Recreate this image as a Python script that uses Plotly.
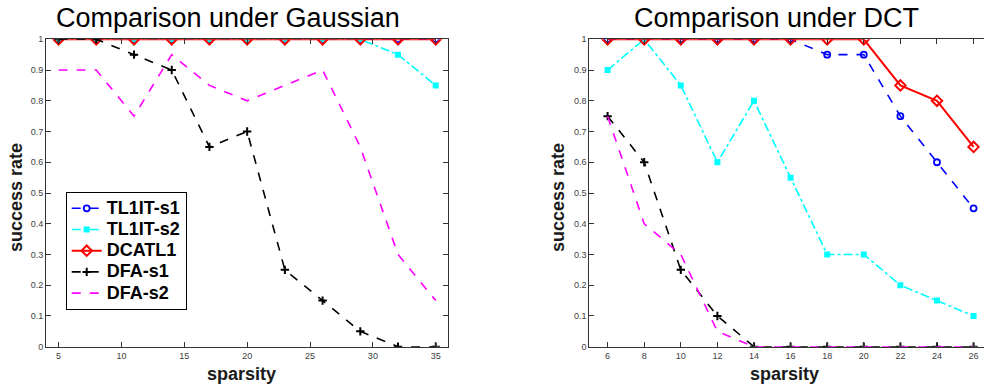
import plotly.graph_objects as go

# ---- data ----
names = ["TL1IT-s1", "TL1IT-s2", "DCATL1", "DFA-s1", "DFA-s2"]

gauss_x = [5, 8, 11, 14, 17, 20, 23, 26, 29, 32, 35]
gauss_tl1it_s1 = [1, 1, 1, 1, 1, 1, 1, 1, 1, 1, 1]
gauss_tl1it_s2 = [1, 1, 1, 1, 1, 1, 1, 1, 1, 0.95, 0.85]
gauss_dcatl1 = [1, 1, 1, 1, 1, 1, 1, 1, 1, 1, 1]
gauss_dfa_s1 = [1, 1, 0.95, 0.9, 0.65, 0.7, 0.25, 0.15, 0.05, 0, 0]
gauss_dfa_s2 = [0.9, 0.9, 0.75, 0.95, 0.85, 0.8, 0.85, 0.9, 0.65, 0.3, 0.15]

dct_x = [6, 8, 10, 12, 14, 16, 18, 20, 22, 24, 26]
dct_tl1it_s1 = [1, 1, 1, 1, 1, 1, 0.95, 0.95, 0.75, 0.6, 0.45]
dct_tl1it_s2 = [0.9, 1, 0.85, 0.6, 0.8, 0.55, 0.3, 0.3, 0.2, 0.15, 0.1]
dct_dcatl1 = [1, 1, 1, 1, 1, 1, 1, 1, 0.85, 0.8, 0.65]
dct_dfa_s1 = [0.75, 0.6, 0.25, 0.1, 0, 0, 0, 0, 0, 0, 0]
dct_dfa_s2 = [0.75, 0.4, 0.3, 0.05, 0, 0, 0, 0, 0, 0, 0]

gauss_xticks = [5, 10, 15, 20, 25, 30, 35]
dct_xticks = [6, 8, 10, 12, 14, 16, 18, 20, 22, 24, 26]
y_ticks = [0, 0.1, 0.2, 0.3, 0.4, 0.5, 0.6, 0.7, 0.8, 0.9, 1]
y_ticktext = ["0", "0.1", "0.2", "0.3", "0.4", "0.5", "0.6", "0.7", "0.8", "0.9", "1"]

titles = ["Comparison under Gaussian", "Comparison under DCT"]
xlabel = "sparsity"
ylabel = "success rate"

# ---- styles ----
styles = [
    dict(line=dict(color="#0000FF", width=1.6, dash="dash"),
         marker=dict(symbol="circle-open", size=6, color="#0000FF", line=dict(width=1.8)), mode="lines+markers"),
    dict(line=dict(color="#00FFFF", width=1.6, dash="dashdot"),
         marker=dict(symbol="square", size=6, color="#00FFFF"), mode="lines+markers"),
    dict(line=dict(color="#FF0000", width=2),
         marker=dict(symbol="diamond-open", size=8, color="#FF0000", line=dict(width=2)), mode="lines+markers"),
    dict(line=dict(color="#000000", width=1.6, dash="dash"),
         marker=dict(symbol="cross-thin-open", size=6, color="#000000", line=dict(width=2, color="#000000")), mode="lines+markers"),
    dict(line=dict(color="#FF00FF", width=1.6, dash="dash"), mode="lines"),
]

fig = go.Figure()
gauss_series = [gauss_tl1it_s1, gauss_tl1it_s2, gauss_dcatl1, gauss_dfa_s1, gauss_dfa_s2]
dct_series = [dct_tl1it_s1, dct_tl1it_s2, dct_dcatl1, dct_dfa_s1, dct_dfa_s2]
for name, ys, st in zip(names, gauss_series, styles):
    fig.add_trace(go.Scatter(x=gauss_x, y=ys, name='<span style="font-size:18px">' + name + "</span>",
                             xaxis="x", yaxis="y", showlegend=True, **st))
for name, ys, st in zip(names, dct_series, styles):
    fig.add_trace(go.Scatter(x=dct_x, y=ys, name=name, xaxis="x2", yaxis="y2", showlegend=False, **st))

W, H = 985, 385
font_family = "Liberation Sans, Arial, sans-serif"
axis_common = dict(showline=True, linecolor="#333333", linewidth=1, ticks="inside", ticklen=5,
                   tickcolor="#333333", tickfont=dict(size=9, color="#404040", family=font_family),
                   showgrid=False, zeroline=False)

ydom = [1 - 346.7 / H, 1 - 39.3 / H]
fig.update_layout(
    width=W, height=H, margin=dict(l=0, r=0, t=0, b=0, pad=0, autoexpand=False),
    paper_bgcolor="white", plot_bgcolor="white",
    font=dict(family=font_family),
    xaxis=dict(domain=[46 / W, 448.3 / W], range=[4, 36], tickvals=gauss_xticks, mirror="ticks", anchor="y", **axis_common),
    yaxis=dict(domain=ydom, range=[0, 1], tickvals=y_ticks, ticktext=y_ticktext, mirror="ticks", anchor="x", **axis_common),
    xaxis2=dict(domain=[589.3 / W, 984 / W], range=[5, 26.57], tickvals=dct_xticks, mirror="ticks", anchor="y2", **axis_common),
    yaxis2=dict(domain=ydom, range=[0, 1], tickvals=y_ticks, ticktext=y_ticktext, anchor="x2", **axis_common),
    legend=dict(x=65.7 / W, y=1 - 191.7 / H, xanchor="left", yanchor="top",
                bgcolor="white", bordercolor="#000000", borderwidth=1,
                font=dict(size=14, color="black", family=font_family, weight="bold"),
                itemwidth=30, tracegroupgap=0),
    showlegend=True,
)

annos = [
    dict(text=titles[0], x=228 / W, y=1 - 18 / H, font=dict(size=27, color="black")),
    dict(text=titles[1], x=776 / W, y=1 - 18 / H, font=dict(size=27, color="black")),
    dict(text=xlabel, x=241 / W, y=1 - 374 / H, font=dict(size=18, color="#1a1a1a", weight="bold")),
    dict(text=xlabel, x=784 / W, y=1 - 374 / H, font=dict(size=18, color="#1a1a1a", weight="bold")),
    dict(text=ylabel, x=16 / W, y=1 - 198 / H, textangle=-90, font=dict(size=18, color="#1a1a1a", weight="bold")),
    dict(text=ylabel, x=558 / W, y=1 - 198 / H, textangle=-90, font=dict(size=18, color="#1a1a1a", weight="bold")),
]
for a in annos:
    fig.add_annotation(xref="paper", yref="paper", showarrow=False, xanchor="center", yanchor="middle", **a)

fig.write_html("out.html")
